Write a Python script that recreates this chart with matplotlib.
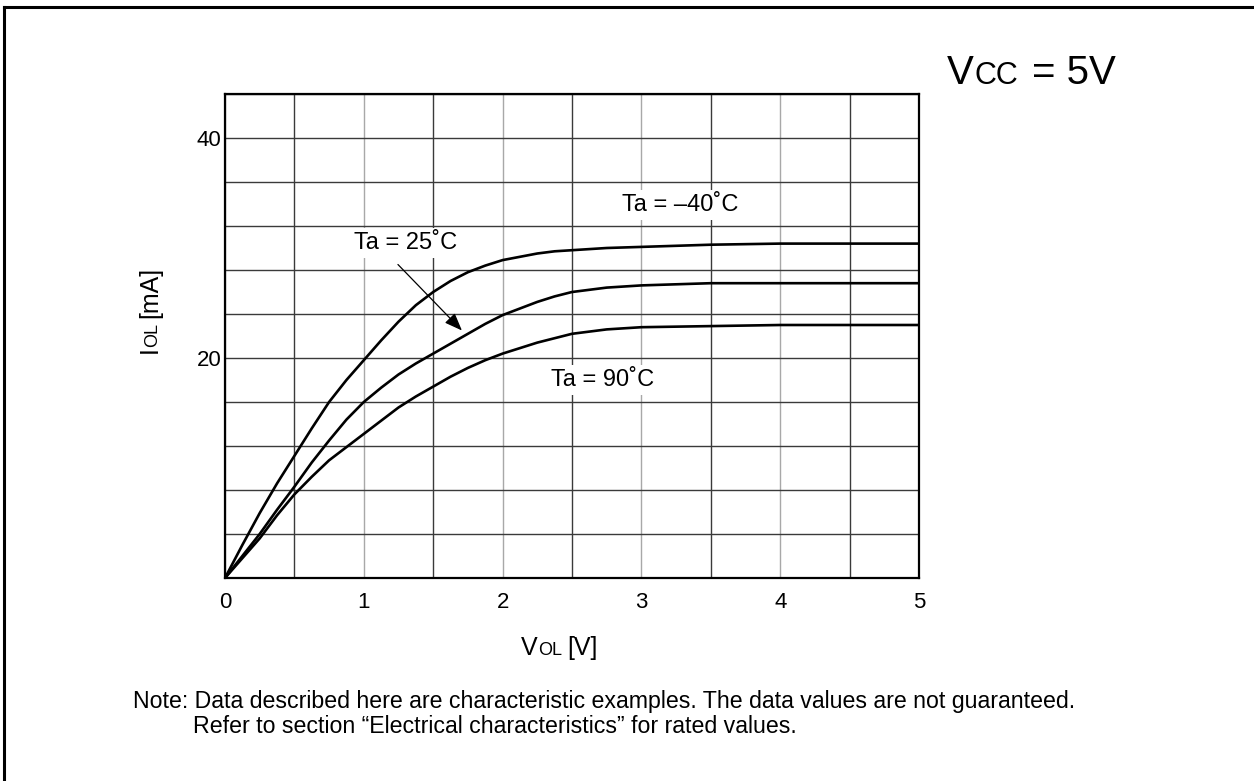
import matplotlib
matplotlib.use("Agg")
import matplotlib.pyplot as plt
from matplotlib.lines import Line2D

plt.rcParams['font.family'] = ['Liberation Sans', 'DejaVu Sans']

vol = [0, 0.125, 0.25, 0.375, 0.5, 0.625, 0.75, 0.875, 1.0, 1.125, 1.25, 1.375, 1.5,
       1.625, 1.75, 1.875, 2.0, 2.125, 2.25, 2.375, 2.5, 2.75, 3.0, 3.5, 4.0, 5.0]
iol_m40 = [0, 3.0, 5.9, 8.6, 11.1, 13.6, 16.0, 18.0, 19.8, 21.6, 23.3, 24.8, 26.0,
           27.0, 27.8, 28.4, 28.9, 29.2, 29.5, 29.7, 29.8, 30.0, 30.1, 30.3, 30.4, 30.4]
iol_25 = [0, 2.0, 4.0, 6.2, 8.3, 10.5, 12.5, 14.4, 16.0, 17.3, 18.5, 19.5, 20.4,
          21.3, 22.2, 23.1, 23.9, 24.5, 25.1, 25.6, 26.0, 26.4, 26.6, 26.8, 26.8, 26.8]
iol_90 = [0, 1.8, 3.6, 5.7, 7.6, 9.2, 10.7, 11.9, 13.1, 14.3, 15.5, 16.5, 17.4,
          18.3, 19.1, 19.8, 20.4, 20.9, 21.4, 21.8, 22.2, 22.6, 22.8, 22.9, 23.0, 23.0]

curve_labels = ['Ta = \u201340\u02daC', 'Ta = 25\u02daC', 'Ta = 90\u02daC']
label_pos = [(3.28, 33.9), (1.30, 30.45), (2.72, 18.0)]
arrow_from = (1.246, 28.5)
arrow_to = (1.707, 22.5)

x_ticks = [0, 1, 2, 3, 4, 5]
x_minor = [0.5, 1.5, 2.5, 3.5, 4.5]
y_ticks = [20, 40]
y_minor = [4, 8, 12, 16, 24, 28, 32, 36, 44]

note_lines = ["Note: Data described here are characteristic examples. The data values are not guaranteed.",
              "Refer to section \u201cElectrical characteristics\u201d for rated values."]

W, H = 1254, 781
fig = plt.figure(figsize=(W / 100, H / 100), dpi=100)
ax = fig.add_axes([225 / W, 1 - 578 / H, (919 - 225) / W, (578 - 94) / H])

ax.set_xlim(0, 5)
ax.set_ylim(0, 44)

# grid: integer volts in light grey, the rest dark
for v in x_ticks:
    ax.axvline(v, color='#a8a8a8', lw=1.0, zorder=1)
for v in x_minor:
    ax.axvline(v, color='#3a3a3a', lw=1.0, zorder=1)
for i in y_ticks + y_minor:
    ax.axhline(i, color='#3a3a3a', lw=1.0, zorder=1)

for series in (iol_m40, iol_25, iol_90):
    ax.plot(vol, series, color='black', lw=1.9, zorder=3, solid_joinstyle='round')

for s, (x, y) in zip(curve_labels, label_pos):
    ax.text(x, y, s, ha='center', va='center', fontsize=17, zorder=4,
            bbox=dict(fc='white', ec='none', pad=3))

ax.annotate('', xy=arrow_to, xytext=arrow_from, zorder=5,
            arrowprops=dict(arrowstyle='-|>,head_length=0.9,head_width=0.35',
                            mutation_scale=12, color='black', lw=0.9,
                            shrinkA=0, shrinkB=0))

ax.set_xticks(x_ticks)
ax.set_yticks(y_ticks)
ax.tick_params(axis='x', length=0, pad=10, labelsize=16)
ax.tick_params(axis='y', length=0, pad=2.4, labelsize=16)
for sp in ax.spines.values():
    sp.set_linewidth(1.6)
    sp.set_zorder(6)


def mixed_text(x, y, parts, ha='left', rotation=0):
    # parts: (text, fontsize, gap in px before it); x, y in px from top-left
    r = fig.canvas.get_renderer()
    widths = []
    for s, fs, gap in parts:
        t = fig.text(0, 0, s, fontsize=fs)
        widths.append(t.get_window_extent(r).width)
        t.remove()
    total = sum(widths) + sum(p[2] for p in parts)
    pos = -total / 2 if ha == 'center' else 0
    for (s, fs, gap), w in zip(parts, widths):
        pos += gap
        if rotation == 0:
            fig.text((x + pos) / W, 1 - y / H, s, fontsize=fs, ha='left', va='baseline')
        else:
            fig.text(x / W, 1 - (y - pos) / H, s, fontsize=fs, ha='left', va='baseline',
                     rotation=90, rotation_mode='anchor')
        pos += w


fig.canvas.draw()
mixed_text(559, 655, [('V', 18, 0), ('OL', 13, 1), ('[V]', 18, 5)], ha='center')
mixed_text(157, 310, [('I', 18, 0), ('OL', 13, -1), ('[mA]', 18, 5)], ha='center', rotation=90)
mixed_text(947, 84, [('V', 29, 0), ('CC', 22, 1), ('= 5V', 29, 13)])

fig.text(133 / W, 1 - 708 / H, note_lines[0], fontsize=16.7, ha='left', va='baseline')
fig.text(193 / W, 1 - 733 / H, note_lines[1], fontsize=16.7, ha='left', va='baseline')

# outer frame (top and left edges)
fig.add_artist(Line2D([4 / W, 4 / W], [0, 1 - 7 / H], transform=fig.transFigure, color='black', lw=2.2))
fig.add_artist(Line2D([4 / W, 1], [1 - 7 / H, 1 - 7 / H], transform=fig.transFigure, color='black', lw=2.2))

fig.savefig('out.png', dpi=100)
